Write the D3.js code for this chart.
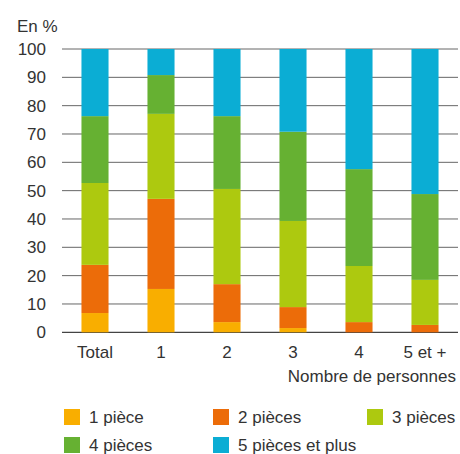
<!DOCTYPE html>
<html><head><meta charset="utf-8">
<script src="https://cdn.jsdelivr.net/npm/d3@7"></script>
<style>body{margin:0;background:#fff}svg{display:block}text{font-family:"Liberation Sans",Arial,sans-serif;fill:#333}</style>
</head><body><svg id="c" width="460" height="454"></svg>
<script>
const categories = ["Total","1","2","3","4","5 et +"];
const seriesNames = ["1 pièce","2 pièces","3 pièces","4 pièces","5 pièces et plus"];
const colors = ["#F9AE00","#EC6C09","#ADC90F","#66B132","#0BADD4"];
const piece1 = [6.8,15.3,3.6,1.5,0,0];
const piece2 = [17.0,31.8,13.4,7.4,3.6,2.6];
const piece3 = [28.9,30.0,33.6,30.4,19.8,15.9];
const piece4 = [23.6,13.7,25.7,31.5,34.2,30.3];
const piece5 = [23.7,9.2,23.7,29.2,42.4,51.2];
const yTicks = [0,10,20,30,40,50,60,70,80,90,100];

const rows = categories.map((c,i)=>({cat:c, s0:piece1[i], s1:piece2[i], s2:piece3[i], s3:piece4[i], s4:piece5[i]}));
const keys = ["s0","s1","s2","s3","s4"];
const stack = d3.stack().keys(keys)(rows);

const svg = d3.select("#c");
const x = d3.scaleBand().domain(categories).range([62,458]).paddingInner(0.59).paddingOuter(0.295);
const y = d3.scaleLinear().domain([0,100]).range([332.3,49]);

// grid
svg.append("g").selectAll("line").data(yTicks).join("line")
  .attr("x1",62).attr("x2",458).attr("y1",d=>y(d)).attr("y2",d=>y(d))
  .attr("stroke",d=>d===0?"#444":"#666").attr("stroke-width",d=>d===0?1.3:1);

// y labels
svg.append("g").selectAll("text").data(yTicks).join("text")
  .attr("x",46).attr("y",d=>y(d)).attr("dy","0.36em").attr("text-anchor","end")
  .attr("font-size",17).text(d=>d);
svg.append("text").attr("x",17).attr("y",32).attr("font-size",17).text("En %");

// bars
svg.append("g").selectAll("g").data(stack).join("g").attr("fill",(d,i)=>colors[i])
  .selectAll("rect").data(d=>d).join("rect")
  .attr("x",d=>x(d.data.cat)).attr("width",x.bandwidth())
  .attr("y",d=>y(d[1])).attr("height",d=>Math.max(0,y(d[0])-y(d[1])));

// x labels
svg.append("g").selectAll("text").data(categories).join("text")
  .attr("x",d=>x(d)+x.bandwidth()/2).attr("y",358).attr("text-anchor","middle")
  .attr("font-size",17).text(d=>d);
svg.append("text").attr("x",456).attr("y",382).attr("text-anchor","end").attr("font-size",17).text("Nombre de personnes");

// legend
const legPos = [[64,409],[213,409],[367,409],[64,437],[213,437]];
const lg = svg.append("g").selectAll("g").data(seriesNames).join("g")
  .attr("transform",(d,i)=>`translate(${legPos[i][0]},${legPos[i][1]})`);
lg.append("rect").attr("width",16).attr("height",16).attr("fill",(d,i)=>colors[i]);
lg.append("text").attr("x",25).attr("y",14).attr("font-size",17).text(d=>d);
</script></body></html>
